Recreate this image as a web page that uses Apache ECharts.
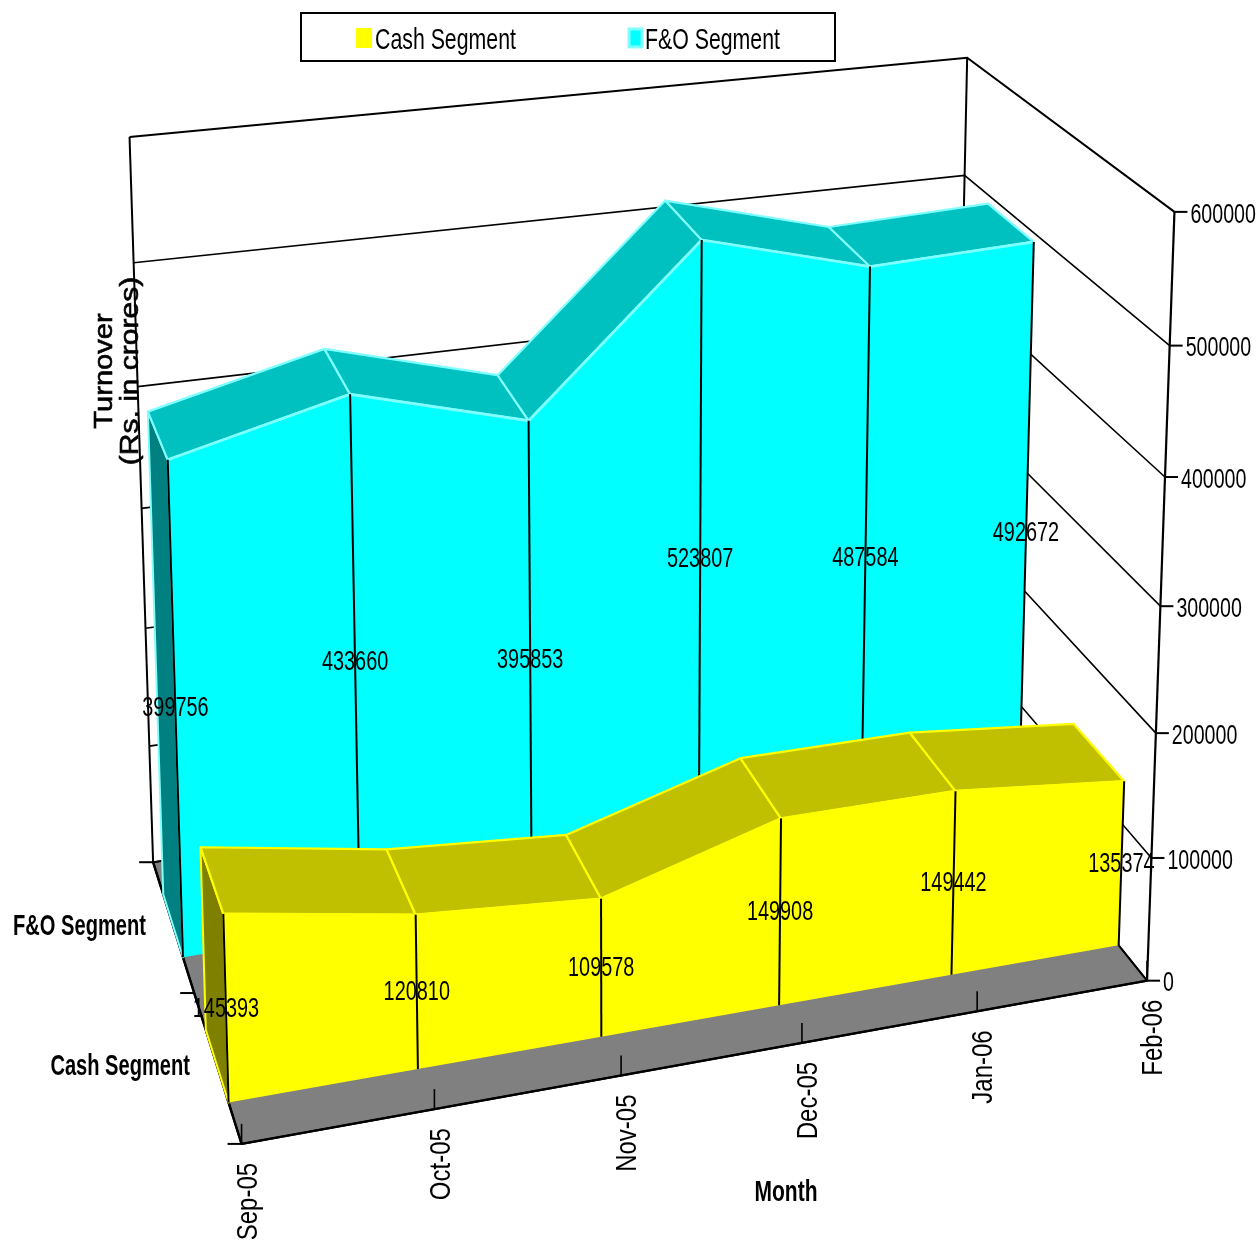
<!DOCTYPE html>
<html>
<head>
<meta charset="utf-8">
<style>html,body{margin:0;background:#fff}#chart{width:1259px;height:1244px}</style>
<script src="https://cdn.jsdelivr.net/npm/echarts@6/dist/echarts.min.js"></script>
</head>
<body>
<div id="chart"></div>
<script>
// Monthly turnover, Rs. in crores
const months = ['Sep-05', 'Oct-05', 'Nov-05', 'Dec-05', 'Jan-06', 'Feb-06'];
const cashSegment = [145393, 120810, 109578, 149908, 149442, 135374];
const foSegment = [399756, 433660, 395853, 523807, 487584, 492672];
const valueTicks = [0, 100000, 200000, 300000, 400000, 500000, 600000];
const segmentNames = ['Cash Segment', 'F&O Segment'];
const depthTicks = [0, 0.5, 1];

// Depth bands of the two slabs along the floor (0 = front, 1 = back)
const cashBand = [0.13, 0.37];
const foBand = [0.63, 0.87];

// Perspective camera: (month, value / 100000, depth) -> screen
const CAM = [
  0.2000033, -0.0057051, -0.0650064, 0.2415608,
  -0.0164803, -0.1406141, -0.1496857, 1.1438978,
  0.0164815, -0.0090658, 0.1530954, 1
];
function camera(m, h, d) {
  const w = CAM[8] * m + CAM[9] * h + CAM[10] * d + CAM[11];
  return [
    1000 * (CAM[0] * m + CAM[1] * h + CAM[2] * d + CAM[3]) / w,
    1000 * (CAM[4] * m + CAM[5] * h + CAM[6] * d + CAM[7]) / w
  ];
}
const lastMonth = months.length - 1;
const maxValue = valueTicks[valueTicks.length - 1];

// Data goes through the hidden cartesian scales, then through the camera
function projector(params, api) {
  const s = params.coordSys;
  return function (cat, val, depth) {
    const c = api.coord([cat, val]);
    const m = (c[0] - s.x) / s.width * lastMonth;
    const h = (s.y + s.height - c[1]) / s.height * maxValue / 100000;
    return camera(m, h, depth);
  };
}

const FONT = '"Liberation Sans", Arial, sans-serif';
function line(points, width, color) {
  return { type: 'polyline', shape: { points }, style: { fill: 'none', stroke: color || '#000', lineWidth: width || 2, lineJoin: 'miter' } };
}
function face(points, fill, stroke, width) {
  return { type: 'polygon', shape: { points }, style: { fill, stroke: stroke || 'none', lineWidth: stroke ? (width || 2) : 0, lineJoin: 'round' } };
}
function flatText(text, x, y, opt) {
  opt = opt || {};
  return {
    type: 'text', x, y, scaleX: opt.sx || 0.71,
    style: {
      text, fill: '#000', align: opt.align || 'center', verticalAlign: 'middle',
      font: (opt.bold ? 'bold ' : '') + (opt.size || 28) + 'px ' + FONT
    }
  };
}
function uprightText(text, x, y, opt) {
  opt = opt || {};
  return {
    type: 'text', x, y, rotation: Math.PI / 2, scaleX: opt.sx || 0.8,
    style: {
      text, fill: '#000', align: opt.align || 'center', verticalAlign: 'middle',
      font: (opt.size || 30) + 'px ' + FONT
    }
  };
}

// Floor, back wall, right wall, gridlines and ticks
function renderFrame(params, api) {
  const p = projector(params, api);
  const kids = [];
  kids.push(face([p(0, 0, 0), p(lastMonth, 0, 0), p(lastMonth, 0, 1), p(0, 0, 1)], '#808080', '#000', 2));
  valueTicks.forEach(function (v) {
    kids.push(line([p(0, v, 1), p(lastMonth, v, 1), p(lastMonth, v, 0)], v === maxValue ? 2 : 1.6));
  });
  kids.push(line([p(0, 0, 1), p(0, maxValue, 1)], 2));
  kids.push(line([p(lastMonth, 0, 1), p(lastMonth, maxValue, 1)], 2));
  kids.push(line([p(lastMonth, 0, 0), p(lastMonth, maxValue, 0)], 2.2));
  valueTicks.forEach(function (v) {
    const a = p(lastMonth, v, 0);
    kids.push(line([a, [a[0] + 13, a[1]]], 2));
  });
  months.forEach(function (_, i) {
    const a = p(i, 0, 0);
    kids.push(line([a, [a[0], a[1] - 20]], 1.6));
  });
  depthTicks.forEach(function (d) {
    const a = p(0, 0, d);
    kids.push(line([a, [a[0] - 14, a[1]]], 2));
  });
  kids.push(line([p(0, 0, 0), p(lastMonth, 0, 0)], 2.4));
  kids.push(line([p(0, 0, 0), p(0, 0, 1)], 2.4));
  return { type: 'group', children: kids };
}

// One slab: left end, sloped top faces, front faces and black month dividers
function slabRenderer(values, band, colors) {
  return function (params, api) {
    if (params.dataIndex !== 0) return null;
    const p = projector(params, api);
    const zf = band[0], zb = band[1];
    const kids = [];
    kids.push(face([p(0, 0, zf), p(0, values[0], zf), p(0, values[0], zb), p(0, 0, zb)], colors.side, colors.edge, 2));
    values.forEach(function (v, i) {
      if (i === lastMonth) return;
      const n = values[i + 1];
      kids.push(face([p(i, v, zf), p(i + 1, n, zf), p(i + 1, n, zb), p(i, v, zb)], colors.top, colors.edge, 2.2));
    });
    values.forEach(function (v, i) {
      if (i === lastMonth) return;
      const n = values[i + 1];
      kids.push(face([p(i, 0, zf), p(i, v, zf), p(i + 1, n, zf), p(i + 1, 0, zf)], colors.front));
    });
    kids.push(line(values.map(function (v, i) { return p(i, v, zf); }), 2.8, colors.edge));
    values.forEach(function (v, i) {
      kids.push(line([p(i, 0, zf), p(i, v, zf)], 2));
    });
    return { type: 'group', children: kids };
  };
}

// Axis texts and value labels sit above every other mark
function renderTexts(params, api) {
  const p = projector(params, api);
  const kids = [];
  valueTicks.forEach(function (v) {
    const a = p(lastMonth, v, 0);
    kids.push(flatText(String(v), a[0] + 16, a[1] + 3, { align: 'left', sx: 0.7 }));
  });
  months.forEach(function (m, i) {
    const a = p(i, 0, 0);
    kids.push(uprightText(m, a[0] + 7, a[1] + 19, { align: 'right' }));
  });
  [[cashBand, segmentNames[0]], [foBand, segmentNames[1]]].forEach(function (e) {
    const a = p(0, 0, (e[0][0] + e[0][1]) / 2);
    kids.push(flatText(e[1], a[0] - 27, a[1] + 1, { align: 'right', bold: true, size: 30, sx: 0.67 }));
  });
  [[foSegment, foBand, -4], [cashSegment, cashBand, 0]].forEach(function (e) {
    e[0].forEach(function (v, i) {
      const a = p(i, v / 2, e[1][0]);
      kids.push(flatText(String(v), a[0], a[1] + e[2], { sx: 0.71 }));
    });
  });
  return { type: 'group', children: kids };
}

function legendGraphic() {
  const text = function (s, x) {
    return {
      type: 'text', x, y: 41, scaleX: 0.71,
      style: { text: s, fill: '#000', align: 'left', verticalAlign: 'middle', font: '30px ' + FONT }
    };
  };
  const axisTitle = function (s, x, sx) {
    return {
      type: 'text', x, y: 371, rotation: Math.PI / 2, scaleX: sx, scaleY: 0.88,
      style: { text: s, fill: '#000', stroke: '#000', lineWidth: 0.7, align: 'center', verticalAlign: 'middle', font: '30px ' + FONT }
    };
  };
  return [
    { type: 'rect', shape: { x: 301, y: 13, width: 534, height: 48 }, style: { fill: '#fff', stroke: '#000', lineWidth: 2 } },
    { type: 'rect', shape: { x: 356, y: 28, width: 16, height: 20 }, style: { fill: '#ff0' } },
    text(segmentNames[0], 375),
    { type: 'rect', shape: { x: 629, y: 29, width: 13, height: 18 }, style: { fill: '#0ff', stroke: '#80ffff', lineWidth: 3 } },
    text(segmentNames[1], 645),
    axisTitle('Turnover', 105, 0.97),
    axisTitle('(Rs. in crores)', 131, 1.0),
    {
      type: 'text', x: 786, y: 1193, scaleX: 0.7,
      style: { text: 'Month', fill: '#000', align: 'center', verticalAlign: 'middle', font: 'bold 30px ' + FONT }
    }
  ];
}

function rows(values) {
  return values.map(function (v, i) { return [i, v]; });
}
function customSeries(name, data, renderItem) {
  return { type: 'custom', name, data, renderItem, clip: false, silent: true, animation: false, encode: { x: 0, y: 1 } };
}

const chart = echarts.init(document.getElementById('chart'), null, { renderer: 'canvas' });
chart.setOption({
  animation: false,
  backgroundColor: '#fff',
  grid: { left: 0, top: 0, width: 500, height: 600 },
  xAxis: { type: 'category', data: months, boundaryGap: false, show: false },
  yAxis: { type: 'value', min: 0, max: maxValue, show: false },
  graphic: legendGraphic(),
  series: [
    customSeries('Frame', [[0, 0]], renderFrame),
    customSeries(segmentNames[1], rows(foSegment), slabRenderer(foSegment, foBand, { front: '#00ffff', top: '#00c0c0', side: '#008080', edge: '#80ffff' })),
    customSeries(segmentNames[0], rows(cashSegment), slabRenderer(cashSegment, cashBand, { front: '#ffff00', top: '#c0c000', side: '#808000', edge: '#ffff00' })),
    customSeries('Labels', [[0, 0]], renderTexts)
  ]
});
</script>
</body>
</html>
